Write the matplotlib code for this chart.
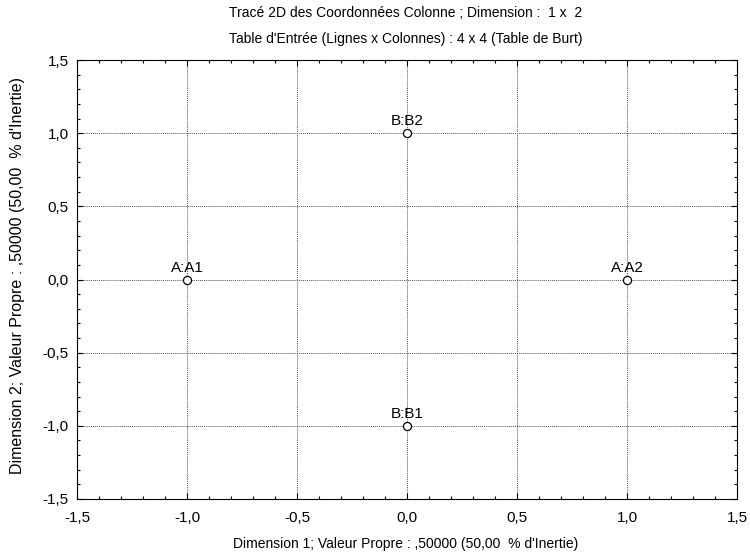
import numpy as np
import matplotlib.pyplot as plt
from matplotlib.ticker import MultipleLocator, FuncFormatter

plt.rcParams["font.family"] = ["Liberation Sans", "DejaVu Sans"]

labels = ["A:A1", "A:A2", "B:B1", "B:B2"]
dim1 = [-1.0, 1.0, 0.0, 0.0]
dim2 = [0.0, 0.0, -1.0, 1.0]

W, H = 750, 553
fig = plt.figure(figsize=(W / 100, H / 100), dpi=100)
ax = fig.add_axes([77 / W, 1 - 499 / H, 660 / W, 439 / H])

ax.scatter(dim1, dim2, s=34, facecolor="white", edgecolor="black", linewidth=0.9, zorder=3)
for x, y, lab in zip(dim1, dim2, labels):
    ax.annotate(lab, (x, y), xytext=(0, 3.5), textcoords="offset points",
                ha="center", va="bottom", fontsize=11)

ax.set_xlim(-1.5, 1.5)
ax.set_ylim(-1.5, 1.5)
fmt = FuncFormatter(lambda v, p: f"{v:.1f}".replace(".", ","))
for a in (ax.xaxis, ax.yaxis):
    a.set_major_locator(MultipleLocator(0.5))
    a.set_minor_locator(MultipleLocator(0.1))
    a.set_major_formatter(fmt)
ax.tick_params(which="both", direction="in", top=True, right=True, labelsize=11, width=0.8)
ax.tick_params(which="major", length=4, pad=6)
ax.tick_params(axis="x", which="major", pad=9)
ax.tick_params(which="minor", length=2)
ax.grid(True, which="major", linestyle=(0, (1, 1)), color="#555555", linewidth=0.7)
for s in ax.spines.values():
    s.set_linewidth(0.8)

fig.text(406 / W, 1 - 544 / H, "Dimension 1; Valeur Propre : ,50000 (50,00  % d'Inertie)",
         ha="center", va="center", fontsize=10)
fig.text(18 / W, 1 - 276 / H, "Dimension 2; Valeur Propre : ,50000 (50,00  % d'Inertie)",
         ha="center", va="center", rotation=90, fontsize=11.5)
fig.text(406 / W, 1 - 13 / H, "Tracé 2D des Coordonnées Colonne ; Dimension :  1 x  2",
         ha="center", va="center", fontsize=10)
fig.text(406 / W, 1 - 39 / H, "Table d'Entrée (Lignes x Colonnes) : 4 x 4 (Table de Burt)",
         ha="center", va="center", fontsize=10)

fig.savefig("out.png", dpi=100)
